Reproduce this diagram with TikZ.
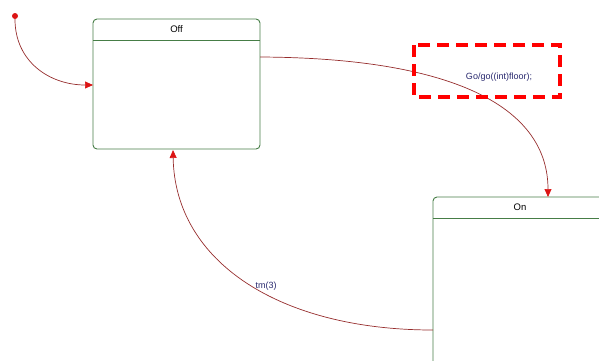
\documentclass[tikz,border=0pt]{standalone}
\usepackage{fontspec}
\setmainfont{Liberation Sans}
\usetikzlibrary{arrows.meta}
\definecolor{boxgreen}{RGB}{70,125,70}
\definecolor{wirered}{RGB}{150,45,45}
\definecolor{tipred}{RGB}{220,20,20}
\definecolor{labelblue}{RGB}{40,40,110}
\tikzset{
  statebox/.style={draw=boxgreen, line width=0.9pt, rounded corners=4pt},
  wire/.style={draw=wirered, line width=0.7pt, -{Triangle[length=8pt,width=7pt,color=tipred]}},
  lbl/.style={font=\fontsize{9}{10}\selectfont, text=labelblue, inner sep=1pt},
  ttl/.style={font=\fontsize{9.5}{10}\selectfont, text=black, inner sep=1pt},
}
\begin{document}
\begin{tikzpicture}[x=1pt,y=-1pt]
\useasboundingbox (0,0) rectangle (599,360);
% Off state
\draw[statebox] (93,19) rectangle (260,149);
\draw[boxgreen, line width=0.9pt] (93,40) -- (260,40);
\node[ttl] (offt) at (176.5,29) {Off};
\coordinate (offL) at (93,85);
\coordinate (offR) at (260,57);
\coordinate (offB) at (173,150);
% On state
\draw[statebox] (433,197) rectangle (610,370);
\draw[boxgreen, line width=0.9pt] (433,218) -- (610,218);
\node[ttl] (ont) at (520,207) {On};
\coordinate (onT) at (548,197);
\coordinate (onL) at (433,330);
% initial
\node[circle, fill=tipred, inner sep=0pt, minimum size=6pt] (init) at (15,16) {};
\draw[wire] (init.south) .. controls (15,62) and (50,85) .. (offL);
% Off -> On
\draw[wire] (offR) .. controls (460,58) and (548,110) .. (onT);
\node[lbl] (golbl) at (499,77) {Go/go((int)floor);};
\draw[draw=red, line width=3.5pt, dash pattern=on 12pt off 7pt] (414,45) rectangle (560,97);
% On -> Off
\draw[wire] (onL) .. controls (280,330) and (175,262) .. (offB);
\node[lbl] (tmlbl) at (266,286) {tm(3)};
\end{tikzpicture}
\end{document}
